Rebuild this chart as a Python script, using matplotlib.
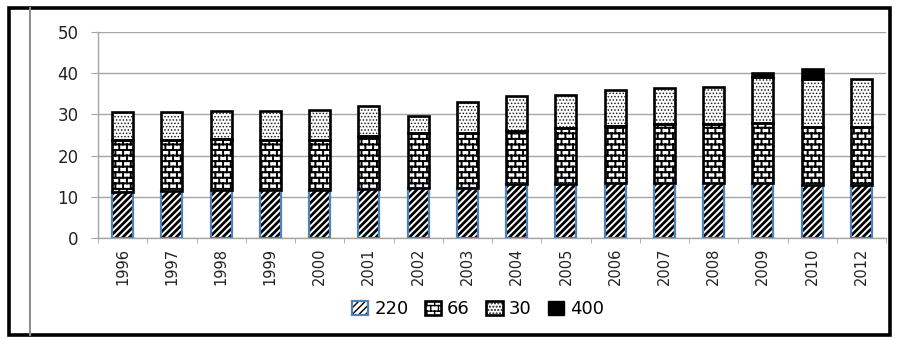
import warnings

import numpy as np
import matplotlib
matplotlib.use("Agg")
import matplotlib.pyplot as plt
import matplotlib.hatch as mhatch
from matplotlib.path import Path
from matplotlib.patches import Patch, Rectangle
from matplotlib.lines import Line2D

warnings.filterwarnings("ignore")

# network length by voltage level (kV), stacked per year
years = ["1996", "1997", "1998", "1999", "2000", "2001", "2002", "2003",
         "2004", "2005", "2006", "2007", "2008", "2009", "2010", "2012"]
v220 = [11.2, 11.4, 11.6, 11.7, 11.7, 12.0, 12.2, 12.2,
        13.0, 13.2, 13.3, 13.3, 13.3, 13.3, 12.8, 12.8]
v66 = [12.7, 12.5, 12.4, 12.2, 12.2, 12.8, 13.2, 13.2,
       13.0, 13.4, 14.0, 14.4, 14.4, 14.7, 14.2, 14.2]
v30 = [6.7, 6.6, 6.8, 6.9, 7.1, 7.2, 4.3, 7.6,
       8.4, 8.2, 8.6, 8.7, 9.0, 11.0, 11.5, 11.7]
v400 = [0, 0, 0, 0, 0, 0, 0, 0, 0, 0, 0, 0, 0, 1.1, 2.4, 0]
series_names = ["220", "66", "30", "400"]


class BrickHatch(mhatch.HatchPatternBase):
    """Running-bond brick hatch, picked with 'b' in the hatch string."""

    def __init__(self, hatch, density):
        rows = int(hatch.count("b") * density)
        self.segments = []
        if rows:
            cols = int(rows * 0.75)
            h, w = 1.0 / rows, 1.0 / cols
            for r in range(rows + 1):
                y0 = r * h
                self.segments.append(((0, y0), (1, y0)))
                if r == rows:
                    break
                if r % 2 == 0:
                    xs = [c * w for c in range(cols + 1)]
                else:
                    xs = [(c + 0.5) * w for c in range(cols)]
                for xv in xs:
                    self.segments.append(((xv, y0), (xv, y0 + h)))
        self.num_vertices = 2 * len(self.segments)

    def set_vertices_and_codes(self, vertices, codes):
        for i, (a, b) in enumerate(self.segments):
            vertices[2 * i] = a
            vertices[2 * i + 1] = b
        codes[0::2] = Path.MOVETO
        codes[1::2] = Path.LINETO


class DenseDiagonal(mhatch.NorthEastHatch):
    """Tight '/' lines, picked with 'd' (line count kept even so tiles join)."""

    def __init__(self, hatch, density):
        self.num_lines = int(hatch.count("d") * density * 5)
        self.num_vertices = (self.num_lines + 1) * 2 if self.num_lines else 0


mhatch._hatch_types.extend([BrickHatch, DenseDiagonal])

BLUE = "#4F81BD"
GRID = "#a6a6a6"

fig = plt.figure(figsize=(9.09, 3.38), dpi=100)
ax = fig.add_axes([98 / 909, 1 - 238 / 338, 788 / 909, 206 / 338])

x = np.arange(len(years))
width = 0.43
a220, a66, a30, a400 = (np.array(v) for v in (v220, v66, v30, v400))
b66 = a220
b30 = a220 + a66
b400 = b30 + a30
has400 = a400 > 0


def fill(xs, vals, bottom, hatch, hcolor, hlw, face="white"):
    bars = ax.bar(xs, vals, width, bottom=bottom, color=face, edgecolor=hcolor,
                  linewidth=0, hatch=hatch, zorder=2)
    for b in bars:
        if hasattr(b, "set_hatch_linewidth"):
            b.set_hatch_linewidth(hlw)
    return bars


def outline(xs, vals, bottom, color, lw):
    ax.bar(xs, vals, width, bottom=bottom, fill=False, edgecolor=color,
           linewidth=lw, zorder=3)


fill(x, a220, 0, "d", "black", 2.0)
fill(x, a66, b66, "bbb", "black", 1.4)
fill(x, a30, b30, ".....", "#222222", 0.7)
fill(x[has400], a400[has400], b400[has400], None, "black", 0, face="black")

outline(x, a220, 0, BLUE, 1.6)
outline(x, a66, b66, "black", 1.9)
outline(x, a30, b30, "black", 1.9)
outline(x[has400], a400[has400], b400[has400], "black", 1.9)

ax.set_xlim(-0.5, len(years) - 0.5)
ax.set_ylim(0, 50)
ax.set_yticks(np.arange(0, 51, 10))
ax.yaxis.grid(True, color=GRID, linewidth=1)
ax.set_axisbelow(True)

for side in ("top", "right"):
    ax.spines[side].set_visible(False)
for side in ("left", "bottom"):
    ax.spines[side].set_color(GRID)
    ax.spines[side].set_linewidth(1)

ax.set_xticks(x)
ax.set_xticklabels(years, rotation=90, fontsize=10.5,
                   family=["Liberation Sans Narrow", "DejaVu Sans"], color="#222222")
ax.set_xticks(np.arange(len(years) + 1) - 0.5, minor=True)
ax.tick_params(axis="x", which="major", length=0, pad=7)
ax.tick_params(axis="x", which="minor", length=3.5, color=GRID)
ax.tick_params(axis="y", length=5, color=GRID, pad=9, labelsize=12,
               labelcolor="#222222")

handles = [
    (Patch(facecolor="white", edgecolor="black", hatch="d", linewidth=0),
     Patch(fill=False, edgecolor=BLUE, linewidth=1.6)),
    (Patch(facecolor="white", edgecolor="black", hatch="bbb", linewidth=0),
     Patch(fill=False, edgecolor="black", linewidth=1.9)),
    (Patch(facecolor="white", edgecolor="#222222", hatch=".....", linewidth=0),
     Patch(fill=False, edgecolor="black", linewidth=1.9)),
    Patch(facecolor="black", edgecolor="black", linewidth=1),
]
fig.legend(handles, series_names, loc="center", bbox_to_anchor=(478 / 909, 1 - 309 / 338),
           ncol=4, frameon=False, fontsize=13, handlelength=0.9, handleheight=0.8,
           handletextpad=0.35, columnspacing=0.9, borderpad=0)

# outer frame and the grey rule on its left
fig.add_artist(Rectangle((9 / 909, 1 - 335 / 338), 881 / 909, 327.5 / 338,
                         transform=fig.transFigure, fill=False,
                         edgecolor="black", linewidth=2.6))
fig.add_artist(Line2D([30 / 909, 30 / 909], [1 - 335 / 338, 1 - 7.5 / 338],
                      transform=fig.transFigure, color="#8c8c8c", linewidth=1.4))

fig.savefig("out.png", dpi=100, facecolor="white")
